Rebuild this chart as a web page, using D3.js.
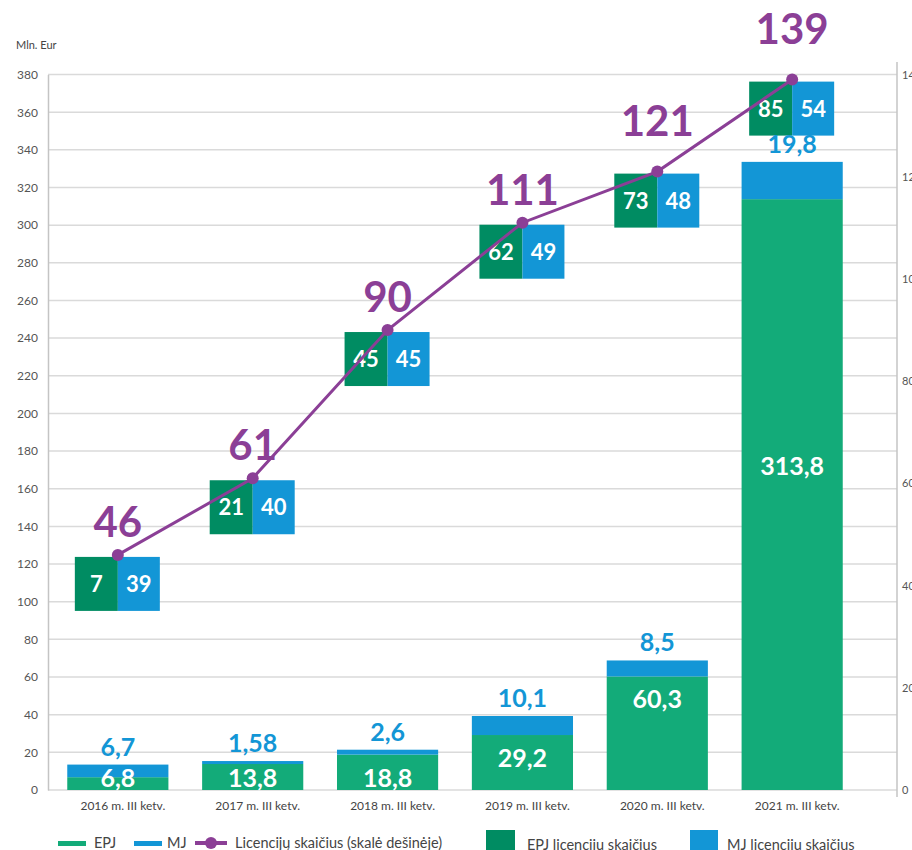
<html>
  <head>
    <meta charset="utf-8" />
    <script src="https://cdnjs.cloudflare.com/ajax/libs/d3/7.6.1/d3.min.js"></script>
    <style>
      body { margin: 0; background: #fff; }
      svg { width: 912px; height: 850px; display: block; font-family: Lato, "Open Sans", sans-serif; }
    </style>
  </head>
  <body>
    <svg></svg>
  </body>

  <script>
    const categories = [
      "2016 m. III ketv.",
      "2017 m. III ketv.",
      "2018 m. III ketv.",
      "2019 m. III ketv.",
      "2020 m. III ketv.",
      "2021 m. III ketv."
    ];
    const epj = [6.8, 13.8, 18.8, 29.2, 60.3, 313.8];
    const mj = [6.7, 1.58, 2.6, 10.1, 8.5, 19.8];
    const epjLicences = [7, 21, 45, 62, 73, 85];
    const mjLicences = [39, 40, 45, 49, 48, 54];
    const licences = [46, 61, 90, 111, 121, 139];
    const leftTicks = d3.range(0, 381, 20);
    const rightTicks = d3.range(0, 141, 20);

    const green = "#13ab79";
    const blue = "#1396d6";
    const darkGreen = "#008c62";
    const purple = "#8b3f96";
    const fmt = (v) => String(v).replace(".", ",");

    const svg = d3.select("svg");

    const xScale = d3.scaleBand().domain(categories).range([50, 860])
      .paddingInner(0.25).paddingOuter(0.128);
    const yScale = d3.scaleLinear().domain([0, 380]).range([790, 74.5]);
    const y2Scale = d3.scaleLinear().domain([0, 140]).range([790, 74.5]);
    const cx = (i) => xScale(categories[i]) + xScale.bandwidth() / 2;

    // grid
    svg.append("g").selectAll("line").data(leftTicks).join("line")
      .attr("x1", 48).attr("x2", 897)
      .attr("y1", (d) => yScale(d)).attr("y2", (d) => yScale(d))
      .attr("stroke", "#dadada").attr("stroke-width", 1.5);

    const yAxis = d3.axisLeft(yScale).tickValues(leftTicks).tickSize(0).tickPadding(10);
    const yg = svg.append("g").attr("transform", "translate(48,0)").call(yAxis);
    yg.select(".domain").attr("stroke", "#c4c4c4").attr("stroke-width", 1.5);
    yg.selectAll("text").attr("font-size", 12).attr("fill", "#555")
      .attr("font-family", "Lato, sans-serif");

    const y2Axis = d3.axisRight(y2Scale).tickValues(rightTicks).tickSize(0).tickPadding(5);
    const y2g = svg.append("g").attr("transform", "translate(897,0)").call(y2Axis);
    y2g.select(".domain").attr("stroke", "#c4c4c4").attr("stroke-width", 1.5)
      .attr("d", "M0,62V797");
    y2g.selectAll("text").attr("font-size", 11).attr("fill", "#555")
      .attr("font-family", "Lato, sans-serif");

    svg.append("text").attr("x", 16).attr("y", 49).attr("font-size", 11)
      .attr("fill", "#444").text("Mln. Eur");

    // x labels
    svg.append("g").selectAll("text").data(categories).join("text")
      .attr("x", (d, i) => cx(i) + 5).attr("y", 810)
      .attr("text-anchor", "middle").attr("font-size", 12).attr("fill", "#444")
      .text((d) => d);

    // stacked bars
    const bars = svg.append("g");
    bars.selectAll("rect.epj").data(epj).join("rect").attr("class", "epj")
      .attr("x", (d, i) => xScale(categories[i])).attr("width", xScale.bandwidth())
      .attr("y", (d) => yScale(d)).attr("height", (d) => yScale(0) - yScale(d))
      .attr("fill", green);
    bars.selectAll("rect.mj").data(mj).join("rect").attr("class", "mj")
      .attr("x", (d, i) => xScale(categories[i])).attr("width", xScale.bandwidth())
      .attr("y", (d, i) => yScale(epj[i] + d))
      .attr("height", (d, i) => yScale(epj[i]) - yScale(epj[i] + d))
      .attr("fill", blue);

    bars.selectAll("text.epj").data(epj).join("text").attr("class", "epj")
      .attr("x", (d, i) => cx(i))
      .attr("y", (d) => {
        const top = yScale(d), bottom = yScale(0);
        return bottom - top > 150 ? (top + bottom) / 2 - 20 : Math.min(top + 32, bottom - 3);
      })
      .attr("text-anchor", "middle").attr("font-size", 25).attr("font-weight", 700)
      .attr("fill", "#fff").text((d) => fmt(d));

    // licence boxes
    const boxes = svg.append("g");
    licences.forEach((v, i) => {
      const x = cx(i), y = y2Scale(v) + 2;
      boxes.append("rect").attr("x", x - 43).attr("y", y).attr("width", 43)
        .attr("height", 54).attr("fill", darkGreen);
      boxes.append("rect").attr("x", x).attr("y", y).attr("width", 42)
        .attr("height", 54).attr("fill", blue);
      boxes.append("text").attr("x", x - 21.5).attr("y", y + 35)
        .attr("text-anchor", "middle").attr("font-size", 22).attr("font-weight", 700)
        .attr("fill", "#fff").text(epjLicences[i]);
      boxes.append("text").attr("x", x + 21).attr("y", y + 35)
        .attr("text-anchor", "middle").attr("font-size", 22).attr("font-weight", 700)
        .attr("fill", "#fff").text(mjLicences[i]);
    });

    svg.append("g").selectAll("text").data(mj).join("text")
      .attr("x", (d, i) => cx(i))
      .attr("y", (d, i) => yScale(epj[i] + d) - 9)
      .attr("text-anchor", "middle").attr("font-size", 25).attr("font-weight", 700)
      .attr("fill", blue).text((d) => fmt(d));

    // licence line
    const line = d3.line().x((d, i) => cx(i)).y((d) => y2Scale(d));
    svg.append("path").attr("d", line(licences)).attr("fill", "none")
      .attr("stroke", purple).attr("stroke-width", 3);
    svg.append("g").selectAll("circle").data(licences).join("circle")
      .attr("cx", (d, i) => cx(i)).attr("cy", (d) => y2Scale(d)).attr("r", 6)
      .attr("fill", purple);
    svg.append("g").selectAll("text").data(licences).join("text")
      .attr("x", (d, i) => cx(i)).attr("y", (d, i) => y2Scale(d) - (i >= 4 ? 36 : 18))
      .attr("text-anchor", "middle").attr("font-size", 42).attr("font-weight", 700)
      .attr("fill", purple).text((d) => d);

    // legend
    const lg = svg.append("g").attr("font-size", 14.5).attr("fill", "#444");
    lg.append("rect").attr("x", 58).attr("y", 841).attr("width", 28).attr("height", 5).attr("fill", green);
    lg.append("text").attr("x", 94).attr("y", 848).text("EPJ");
    lg.append("rect").attr("x", 134).attr("y", 841).attr("width", 28).attr("height", 5).attr("fill", blue);
    lg.append("text").attr("x", 167).attr("y", 848).text("MJ");
    lg.append("line").attr("x1", 195).attr("x2", 227).attr("y1", 843).attr("y2", 843)
      .attr("stroke", purple).attr("stroke-width", 4);
    lg.append("circle").attr("cx", 211).attr("cy", 843).attr("r", 6).attr("fill", purple);
    lg.append("text").attr("x", 235).attr("y", 848).text("Licencijų skaičius (skalė dešinėje)");
    lg.append("rect").attr("x", 486).attr("y", 830).attr("width", 29).attr("height", 22).attr("fill", darkGreen);
    lg.append("text").attr("x", 527).attr("y", 850).text("EPJ licencijų skaičius");
    lg.append("rect").attr("x", 690).attr("y", 830).attr("width", 28).attr("height", 22).attr("fill", blue);
    lg.append("text").attr("x", 727).attr("y", 850).text("MJ licencijų skaičius");
  </script>
</html>
